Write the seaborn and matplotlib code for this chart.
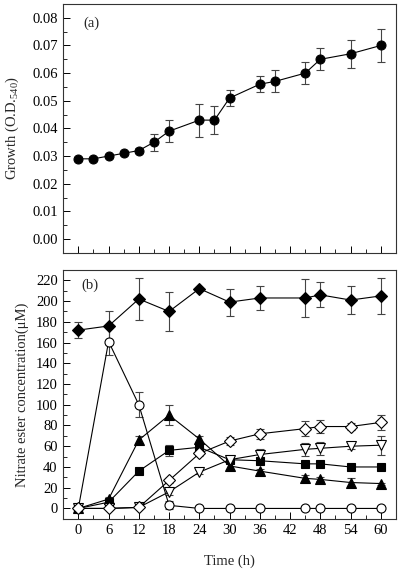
import numpy as np
import pandas as pd
import seaborn as sns
import matplotlib as mpl
mpl.use("Agg")
import matplotlib.pyplot as plt
from matplotlib.ticker import MultipleLocator

# panel (a): growth
time_a = [0, 3, 6, 9, 12, 15, 18, 24, 27, 30, 36, 39, 45, 48, 54, 60]
growth = [0.029, 0.029, 0.030, 0.031, 0.032, 0.035, 0.039, 0.043, 0.043, 0.051,
          0.056, 0.057, 0.060, 0.065, 0.067, 0.070]
growth_err = [0.0005, 0.0005, 0.0005, 0.0005, 0.0008, 0.003, 0.004, 0.006, 0.005, 0.003,
              0.003, 0.004, 0.004, 0.004, 0.005, 0.006]

# panel (b): nitrate esters
time_b = [0, 6, 12, 18, 24, 30, 36, 45, 48, 54, 60]
filled_diamond = [172, 176, 202, 190, 212, 199, 203, 203, 206, 201, 205]
filled_diamond_err = [8, 14, 20, 19, 0, 13, 12, 18, 12, 13.5, 17]
open_circle = [0, 161, 100, 3, 0, 0, 0, 0, 0, 0, 0]
open_circle_err = [0, 13, 12, 4, 0, 0, 0, 0, 0, 0, 0]
filled_triangle = [0, 9, 66, 90, 67, 41, 36, 29, 28, 25, 24]
filled_triangle_err = [0, 2, 4, 9.5, 3, 4, 2, 3, 2, 4, 1]
filled_square = [0, 6, 36, 56, 59, 47, 46, 43, 43, 40, 40]
filled_square_err = [0, 1, 2, 5.5, 3, 3, 2, 1.5, 1, 1, 1]
open_diamond = [0, 0, 1, 27, 53, 65, 72, 77, 79, 79, 83]
open_diamond_err = [0, 0, 0, 2, 2, 4, 5, 7, 6, 3, 7]
open_triangle = [0, 0, 1, 16, 35, 47, 52, 57, 58, 60, 61]
open_triangle_err = [0, 0, 0, 3, 2, 3, 5, 6, 6, 3, 9]

sns.set_style("ticks")
plt.rcParams["font.family"] = ["Liberation Serif", "DejaVu Serif"]
plt.rcParams["mathtext.fontset"] = "custom"
plt.rcParams["mathtext.rm"] = "Liberation Serif"
plt.rcParams["xtick.direction"] = "in"
plt.rcParams["ytick.direction"] = "in"

fig = plt.figure(figsize=(4.0, 5.72), dpi=100)
ax_a = fig.add_axes([0.158, 0.558, 0.832, 0.435])
ax_b = fig.add_axes([0.158, 0.093, 0.832, 0.435])

lw = 0.8
err_kw = dict(fmt="none", ecolor="#444444", elinewidth=0.8, capsize=3, capthick=0.8)

# (a)
df_a = pd.DataFrame({"t": time_a, "g": growth})
ax_a.errorbar(time_a, growth, yerr=growth_err, zorder=1, **err_kw)
sns.lineplot(data=df_a, x="t", y="g", ax=ax_a, color="black", lw=lw, marker="o",
             markersize=6.5, markerfacecolor="black", markeredgecolor="black", zorder=3)

# (b)
series = [
    (filled_diamond, filled_diamond_err, "D", "black", 6),
    (open_circle, open_circle_err, "o", "white", 6.5),
    (filled_triangle, filled_triangle_err, "^", "black", 6.5),
    (filled_square, filled_square_err, "s", "black", 6),
    (open_triangle, open_triangle_err, "v", "white", 7),
    (open_diamond, open_diamond_err, "D", "white", 6),
]
for vals, errs, m, fc, ms in series:
    ax_b.errorbar(time_b, vals, yerr=errs, zorder=1, **err_kw)
for vals, errs, m, fc, ms in series:
    d = pd.DataFrame({"t": time_b, "v": vals})
    sns.lineplot(data=d, x="t", y="v", ax=ax_b, color="black", lw=lw, marker=m,
                 markersize=ms, markerfacecolor=fc, markeredgecolor="black",
                 markeredgewidth=0.8, zorder=3)

for ax in (ax_a, ax_b):
    ax.set_xlim(-3, 63)
    ax.xaxis.set_major_locator(MultipleLocator(6))
    ax.xaxis.set_minor_locator(MultipleLocator(3))
    ax.tick_params(which="major", length=5, width=0.7, labelsize=10.5, colors="black", pad=4)
    ax.tick_params(which="minor", length=3, width=0.7)
    for s in ax.spines.values():
        s.set_linewidth(0.8)
        s.set_color("#333333")
    ax.set_xlabel("")

ax_a.set_ylim(-0.005, 0.085)
ax_a.yaxis.set_major_locator(MultipleLocator(0.01))
ax_a.yaxis.set_minor_locator(MultipleLocator(0.005))
ax_a.yaxis.set_major_formatter(mpl.ticker.FormatStrFormatter("%.2f"))
ax_a.tick_params(axis="x", labelbottom=False)
ax_a.set_ylabel(r"Growth (O.D.$_{\mathrm{540}}$)", fontsize=10.5, labelpad=8)
ax_a.text(1.0, 0.078, "(a)", fontsize=10.5, va="center")

ax_b.set_ylim(-10, 230)
ax_b.yaxis.set_major_locator(MultipleLocator(20))
ax_b.yaxis.set_minor_locator(MultipleLocator(10))
ax_b.set_ylabel("Nitrate ester concentration(\u03bcM)", fontsize=10.5, labelpad=5)
ax_b.set_xlabel("Time (h)", fontsize=10.5, labelpad=12)
ax_b.text(0.6, 215, "(b)", fontsize=10.5, va="center")

fig.savefig("out.png", dpi=100)
